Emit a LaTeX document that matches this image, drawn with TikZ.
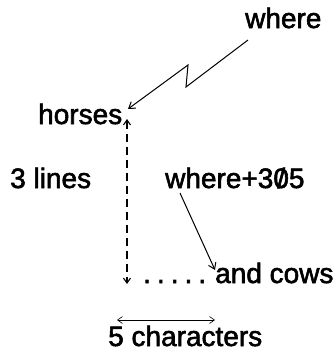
\documentclass[tikz,border=0pt]{standalone}
\usepackage{fontspec}
\setmainfont{Liberation Sans}
\newfontfamily\lblfont{Liberation Sans}[FakeBold=2]
\usetikzlibrary{arrows.meta}
\newcommand{\slzero}{\ooalign{0\cr\hidewidth/\hidewidth\cr}}
\newcommand{\dotgap}{\hspace{6pt}}
\begin{document}
\begin{tikzpicture}[x=1pt,y=-1pt,
  txt/.style={inner sep=0pt,anchor=base west,font=\fontsize{28}{30}\lblfont},
  arr/.style={line width=1pt,-{Straight Barb[length=6pt,width=8pt]}},
  darr/.style={line width=1.1pt,dash pattern=on 8pt off 5pt,{Straight Barb[length=5pt,width=7pt]}-{Straight Barb[length=5pt,width=7pt]}},
  warr/.style={line width=0.6pt,{Straight Barb[length=5pt,width=7pt]}-{Straight Barb[length=5pt,width=7pt]}}]
\useasboundingbox (0,0) rectangle (336,351);
\node[txt] (where) at (245,28) {where};
\node[txt] (horses) at (38,124) {horses};
\node[txt] (lines) at (10,188) {3 lines};
\node[txt] (wplus) at (165,188) {where+3\slzero5};
\node[txt] (dots) at (143,283) {.\dotgap.\dotgap.\dotgap.\dotgap.};
\node[txt] (cows) at (215,283) {and cows};
\node[txt] (chars) at (108,346) {5 characters};
% named coordinates for free ends
\coordinate (zs) at (248,40);
\coordinate (z1) at (186,87);
\coordinate (z2) at (188,65);
\coordinate (ze) at (128,109);
\coordinate (vt) at (127,119);
\coordinate (vb) at (127,284);
\coordinate (ws) at (180,193);
\coordinate (ce) at (215,270);
\coordinate (hl) at (117,320);
\coordinate (hr) at (215,320);
\draw[arr] (zs) -- (z1) -- (z2) -- (ze);
\draw[darr] (vt) -- (vb);
\draw[arr] (ws) -- (ce);
\draw[warr] (hl) -- (hr);
\end{tikzpicture}
\end{document}
